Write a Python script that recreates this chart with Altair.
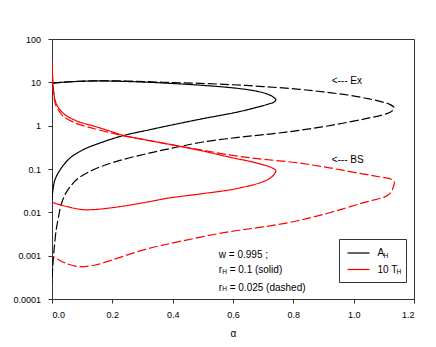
import altair as alt
import pandas as pd

# ---- data ----
x_ticks = [0.0, 0.2, 0.4, 0.6, 0.8, 1.0, 1.2]
y_ticks = [0.0001, 0.001, 0.01, 0.1, 1, 10, 100]
series_names = ["A_H", "10 T_H"]
case_names = ["solid", "dashed"]

# A_H, r_H = 0.1 (solid)
ah_solid_alpha = [0, 0.05, 0.14, 0.22, 0.31, 0.4, 0.48, 0.56, 0.62, 0.67, 0.71, 0.733, 0.742,
                  0.736, 0.72, 0.70, 0.66, 0.61, 0.5, 0.42, 0.325, 0.236, 0.16, 0.104, 0.06,
                  0.027, 0.01, 0.003, 0]
ah_solid_val = [9.6, 10.2, 10.8, 10.6, 10.1, 9.4, 8.7, 7.9, 7.2, 6.4, 5.5, 4.6, 4.0,
                3.5, 3.2, 2.9, 2.45, 2.03, 1.45, 1.12, 0.81, 0.59, 0.40, 0.28, 0.18,
                0.096, 0.057, 0.033, 0.0195]

# A_H, r_H = 0.025 (dashed)
ah_dash_alpha = [0, 0.05, 0.14, 0.22, 0.31, 0.4, 0.49, 0.6, 0.7, 0.82, 0.9, 0.98, 1.04, 1.09,
                 1.12, 1.134, 1.128, 1.11, 1.04, 0.93, 0.82, 0.72, 0.61, 0.5, 0.424, 0.325,
                 0.214, 0.137, 0.082, 0.049, 0.032, 0.021, 0.014, 0.007, 0.002, 0]
ah_dash_val = [9.6, 10.2, 10.8, 10.8, 10.4, 9.9, 9.5, 8.8, 8.0, 6.9, 6.0, 5.1, 4.3, 3.6,
               3.1, 2.6, 2.2, 1.9, 1.45, 1.03, 0.78, 0.64, 0.53, 0.42, 0.33, 0.235,
               0.15, 0.096, 0.057, 0.030, 0.0164, 0.0075, 0.004, 0.0014, 0.0005, 0.00025]

# 10 T_H, r_H = 0.1 (solid)
th_solid_alpha = [0, 0.001, 0.002, 0.004, 0.007, 0.01, 0.016, 0.025, 0.035, 0.05, 0.07, 0.09,
                  0.14, 0.2, 0.236, 0.31, 0.39, 0.5, 0.6, 0.656, 0.7, 0.73, 0.742,
                  0.738, 0.725, 0.70, 0.61, 0.5, 0.39, 0.3, 0.2, 0.13, 0.1, 0.05, 0]
th_solid_val = [30, 19, 13, 8, 5.2, 3.9, 3.0, 2.4, 2.0, 1.65, 1.4, 1.22,
                0.97, 0.72, 0.6, 0.47, 0.37, 0.26, 0.18, 0.15, 0.125, 0.106, 0.092,
                0.078, 0.063, 0.051, 0.035, 0.027, 0.0215, 0.0165, 0.0128, 0.0115, 0.0116,
                0.0135, 0.017]

# 10 T_H, r_H = 0.025 (dashed)
th_dash_alpha = [0, 0.001, 0.002, 0.004, 0.007, 0.01, 0.016, 0.025, 0.035, 0.05, 0.07, 0.09,
                 0.14, 0.2, 0.25, 0.31, 0.39, 0.5, 0.61, 0.7, 0.81, 0.92, 1.03, 1.09, 1.125,
                 1.135, 1.132, 1.125, 1.11, 1.03, 0.92, 0.81, 0.7, 0.59, 0.42, 0.31, 0.2,
                 0.14, 0.087, 0.043, 0.02, 0]
th_dash_val = [30, 18, 12, 7, 4.6, 3.4, 2.6, 2.1, 1.7, 1.42, 1.22, 1.07,
               0.85, 0.67, 0.56, 0.47, 0.37, 0.27, 0.2, 0.168, 0.14, 0.106, 0.077, 0.065, 0.058,
               0.05, 0.04, 0.03, 0.024, 0.0165, 0.0098, 0.0063, 0.0046, 0.0036, 0.0021, 0.0014,
               0.0008, 0.0006, 0.00056, 0.00068, 0.00082, 0.001]

# annotations (text, alpha, value, font size)
note_text = ["<--- Ex", "<--- BS", "w = 0.995 ;",
             "r", "H", "= 0.1 (solid)",
             "r", "H", "= 0.025 (dashed)",
             "H", "H"]
note_alpha = [0.927, 0.927, 0.553,
              0.553, 0.564, 0.589,
              0.553, 0.564, 0.589,
              1.099, 1.142]
note_val = [10.5, 0.164, 0.00105,
            0.00047, 0.000425, 0.00047,
            0.000184, 0.000168, 0.000184,
            0.00098, 0.000414]
note_size = [10, 10, 10, 10, 6.5, 10, 10, 6.5, 10, 6.5, 6.5]

# ---- build tables ----
rows = []
for s, c, al, vals in [
    (series_names[0], "solid", ah_solid_alpha, ah_solid_val),
    (series_names[0], "dashed", ah_dash_alpha, ah_dash_val),
    (series_names[1], "solid", th_solid_alpha, th_solid_val),
    (series_names[1], "dashed", th_dash_alpha, th_dash_val),
]:
    for i, (a, v) in enumerate(zip(al, vals)):
        rows.append({"series": s, "case": c, "alpha": a, "val": v, "i": i})
df = pd.DataFrame(rows)

tdf = pd.DataFrame({"text": note_text, "alpha": note_alpha, "val": note_val, "fs": note_size})

xscale = alt.Scale(domain=[0, 1.2], nice=False, zero=False)
yscale = alt.Scale(type="log", domain=[0.0001, 100], nice=False)

lines = alt.Chart(df).mark_line(strokeWidth=1.2, interpolate="catmull-rom", clip=True).encode(
    x=alt.X("alpha:Q", scale=xscale,
            axis=alt.Axis(values=x_ticks, format=".1f", title="α", labelPadding=7,
                          titlePadding=9)),
    y=alt.Y("val:Q", scale=yscale,
            axis=alt.Axis(values=y_ticks, format="~g", title=None, labelPadding=7.5)),
    color=alt.Color("series:N",
                    scale=alt.Scale(domain=series_names, range=["#000000", "#ff0000"]),
                    legend=alt.Legend(title=None, orient="none", legendX=287, legendY=200,
                                      strokeColor="#333333", padding=7.5,
                                      symbolType="M-1,0H3", symbolSize=121,
                                      symbolStrokeWidth=1.2, labelFontSize=10,
                                      labelFont="Liberation Sans", labelOffset=18,
                                      rowPadding=4.5,
                                      labelExpr="datum.label == 'A_H' ? 'A' : '10 T  '")),
    strokeDash=alt.StrokeDash("case:N",
                              scale=alt.Scale(domain=case_names, range=[[1, 0], [9, 3]]),
                              legend=None),
    order=alt.Order("i:Q"),
)

notes = alt.Chart(tdf).mark_text(align="left", baseline="middle", font="Liberation Sans",
                                 color="black").encode(
    x=alt.X("alpha:Q", scale=xscale),
    y=alt.Y("val:Q", scale=yscale),
    text="text:N",
    size=alt.Size("fs:Q", scale=None),
)

chart = alt.layer(lines, notes).properties(
    width=362, height=260, autosize="none",
    padding={"left": 44, "top": 31, "right": 14, "bottom": 40},
).configure_view(stroke="#333333", strokeWidth=1).configure_axis(
    domainColor="#333333", tickColor="#333333", labelColor="black",
    labelFont="Liberation Sans", labelFontSize=9, tickSize=4, grid=False,
    titleFont="Liberation Sans", titleFontSize=10, titleFontWeight="normal",
    titleColor="black",
)

chart.save("out.html", embed_options={"renderer": "svg", "actions": False})
